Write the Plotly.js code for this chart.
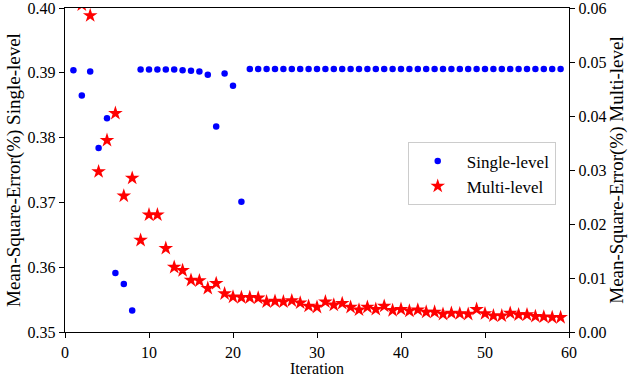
<!DOCTYPE html>
<html>
<head>
<meta charset="utf-8">
<script src="https://cdn.plot.ly/plotly-3.0.1.min.js"></script>
<style>
  html, body { margin: 0; padding: 0; background: #fff; }
  #chart { width: 634px; height: 378px; }
</style>
</head>
<body>
<div id="chart"></div>
<script>
// iterations 1..59
var iterations = [];
for (var k = 1; k <= 59; k++) iterations.push(k);

// single-level MSE (left axis)
var singleLevel = [
  0.3904, 0.3865, 0.3902, 0.3784, 0.3830, 0.3591, 0.3574, 0.3533, 0.3905, 0.3905,
  0.3905, 0.3905, 0.3905, 0.3904, 0.3903, 0.3902, 0.3897, 0.3817, 0.3899, 0.3880,
  0.3701, 0.3906, 0.3906, 0.3906, 0.3906, 0.3906, 0.3906, 0.3906, 0.3906, 0.3906,
  0.3906, 0.3906, 0.3906, 0.3906, 0.3906, 0.3906, 0.3906, 0.3906, 0.3906, 0.3906,
  0.3906, 0.3906, 0.3906, 0.3906, 0.3906, 0.3906, 0.3906, 0.3906, 0.3906, 0.3906,
  0.3906, 0.3906, 0.3906, 0.3906, 0.3906, 0.3906, 0.3906, 0.3906, 0.3906
];

// multi-level MSE (right axis)
var multiLevel = [
  0.0720, 0.0606, 0.0586, 0.0297, 0.0355, 0.0405, 0.0252, 0.0285, 0.0170, 0.0217,
  0.0217, 0.0155, 0.0120, 0.0114, 0.0096, 0.0095, 0.0081, 0.0090, 0.0071, 0.0065,
  0.0064, 0.0064, 0.0063, 0.0056, 0.0057, 0.0056, 0.0058, 0.0054, 0.0048, 0.0046,
  0.0056, 0.0050, 0.0053, 0.0046, 0.0041, 0.0046, 0.0042, 0.0048, 0.0040, 0.0042,
  0.0039, 0.0041, 0.0037, 0.0037, 0.0033, 0.0035, 0.0034, 0.0033, 0.0042, 0.0034,
  0.0030, 0.0030, 0.0035, 0.0032, 0.0032, 0.0029, 0.0028, 0.0027, 0.0027
];

var leftTicks = [0.35, 0.36, 0.37, 0.38, 0.39, 0.40];
var rightTicks = [0.00, 0.01, 0.02, 0.03, 0.04, 0.05, 0.06];
var xTicks = [0, 10, 20, 30, 40, 50, 60];

var serif = "'Liberation Serif', 'DejaVu Serif', serif";
var tickFont = { family: serif, size: 16, color: '#000' };
var yTitleFont = { family: serif, size: 19, color: '#000' };
var xTitleFont = { family: serif, size: 16, color: '#000' };

var trace1 = {
  x: iterations,
  y: singleLevel,
  name: 'Single-level',
  mode: 'markers',
  type: 'scatter',
  marker: { color: '#0000ff', size: 6.5, symbol: 'circle' }
};

var trace2 = {
  x: iterations,
  y: multiLevel,
  name: 'Multi-level',
  mode: 'markers',
  type: 'scatter',
  yaxis: 'y2',
  marker: { color: '#ff0000', size: 11, symbol: 'star' }
};

var layout = {
  width: 634,
  height: 378,
  margin: { l: 65, r: 65, t: 8, b: 46 },
  paper_bgcolor: '#fff',
  plot_bgcolor: '#fff',
  font: tickFont,
  showlegend: true,
  legend: {
    x: 0.68, y: 0.585, xanchor: 'left', yanchor: 'top',
    bordercolor: '#cccccc', borderwidth: 1,
    bgcolor: 'rgba(255,255,255,0.8)',
    itemwidth: 48,
    font: { family: serif, size: 17, color: '#000' }
  },
  xaxis: {
    range: [0, 60],
    tickvals: xTicks,
    tickfont: tickFont,
    ticks: 'outside', ticklen: 5, tickcolor: '#000',
    ticklabeloverflow: 'allow',
    showline: true, linecolor: '#000', linewidth: 1.3, mirror: true,
    showgrid: false, zeroline: false,
    title: { text: 'Iteration', font: xTitleFont, standoff: 0 }
  },
  yaxis: {
    range: [0.35, 0.40],
    tickvals: leftTicks,
    tickformat: '.2f',
    tickfont: tickFont,
    ticks: 'outside', ticklen: 5, tickcolor: '#000',
    ticklabeloverflow: 'allow',
    showline: true, linecolor: '#000', linewidth: 1.3,
    showgrid: false, zeroline: false,
    title: { text: 'Mean-Square-Error(%) Single-level', font: yTitleFont, standoff: 2 }
  },
  yaxis2: {
    range: [0.00, 0.06],
    tickvals: rightTicks,
    tickformat: '.2f',
    tickfont: tickFont,
    overlaying: 'y',
    side: 'right',
    ticks: 'outside', ticklen: 5, tickcolor: '#000',
    ticklabeloverflow: 'allow',
    showline: true, linecolor: '#000', linewidth: 1.3,
    showgrid: false, zeroline: false,
    title: { text: 'Mean-Square-Error(%) Multi-level', font: yTitleFont, standoff: 2 }
  }
};

Plotly.newPlot('chart', [trace1, trace2], layout, { displayModeBar: false, staticPlot: true });
</script>
</body>
</html>
